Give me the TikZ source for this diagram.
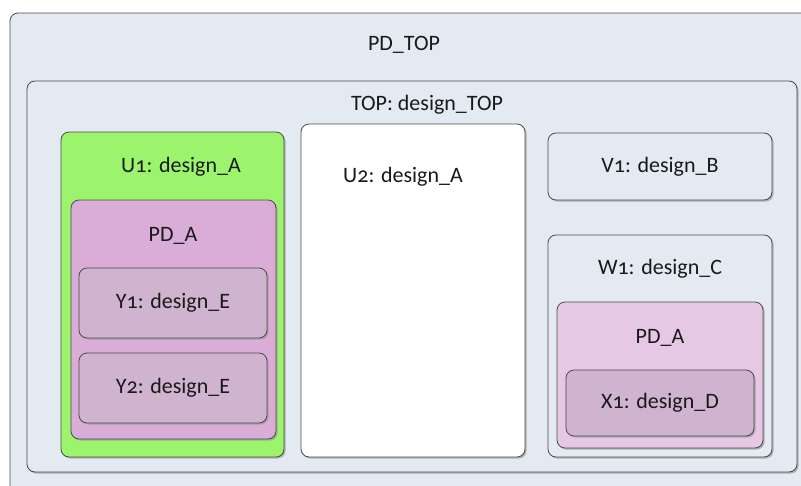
\documentclass[tikz,border=0pt]{standalone}
\usepackage{fontspec}
\setmainfont[Numbers=OldStyle]{Carlito}
\usetikzlibrary{shadows}
\definecolor{bgblue}{HTML}{E4EAF1}
\definecolor{lime}{HTML}{9CF46C}
\definecolor{pdpink}{HTML}{DAACD8}
\definecolor{pdlight}{HTML}{E6C8E4}
\definecolor{instpink}{HTML}{D0B3CF}
\definecolor{edge}{HTML}{4A4A4A}
\tikzset{
  box/.style={draw=edge, line width=0.8pt, rounded corners=8pt, inner sep=0pt,
    drop shadow={shadow xshift=1.6pt, shadow yshift=-1.6pt, fill=black!40, opacity=0.7}},
  lbl/.style={inner sep=1pt},
}

\begin{document}
\begin{tikzpicture}[x=1pt, y=-1pt, font=\fontsize{22}{25}\selectfont, text=black!90]
    \clip (0,0) rectangle (801,485);
    \fill[white] (0,0) rectangle (801,485);

    % power domain and top level
    \node[box, fill=bgblue, minimum width=820, minimum height=497] (pdtop) at (420,261.5) {};
    \node[lbl] (pdtoplbl) at (404,45) {PD\_TOP};
    \node[box, fill=bgblue, minimum width=770, minimum height=391] (top) at (412,276.5) {};
    \node[lbl] (toplbl) at (427,105) {TOP: design\_TOP};

    % U1 with its power domain
    \node[box, fill=lime, minimum width=223, minimum height=325] (u1) at (172.5,294.5) {};
    \node[lbl] (u1lbl) at (181,167) {U1: design\_A};
    \node[box, fill=pdpink, minimum width=205, minimum height=239] (pdal) at (173.5,319.5) {};
    \node[lbl] (pdallbl) at (173,236) {PD\_A};
    \node[box, fill=instpink, minimum width=188, minimum height=70] (y1) at (173,303) {Y1: design\_E};
    \node[box, fill=instpink, minimum width=188, minimum height=70] (y2) at (173,388) {Y2: design\_E};

    % U2
    \node[box, fill=white, minimum width=224, minimum height=333] (u2) at (413,290.5) {};
    \node[lbl] (u2lbl) at (403,177) {U2: design\_A};

    % V1 and W1
    \node[box, fill=bgblue, minimum width=224, minimum height=67] (v1) at (660,166.5) {V1: design\_B};
    \node[box, fill=bgblue, minimum width=224, minimum height=222] (w1) at (660,346) {};
    \node[lbl] (w1lbl) at (660,269) {W1: design\_C};
    \node[box, fill=pdlight, minimum width=206, minimum height=146] (pdar) at (660,375) {};
    \node[lbl] (pdarlbl) at (660,338) {PD\_A};
    \node[box, fill=instpink, minimum width=188, minimum height=66] (x1) at (660,403) {X1: design\_D};
\end{tikzpicture}
\end{document}
